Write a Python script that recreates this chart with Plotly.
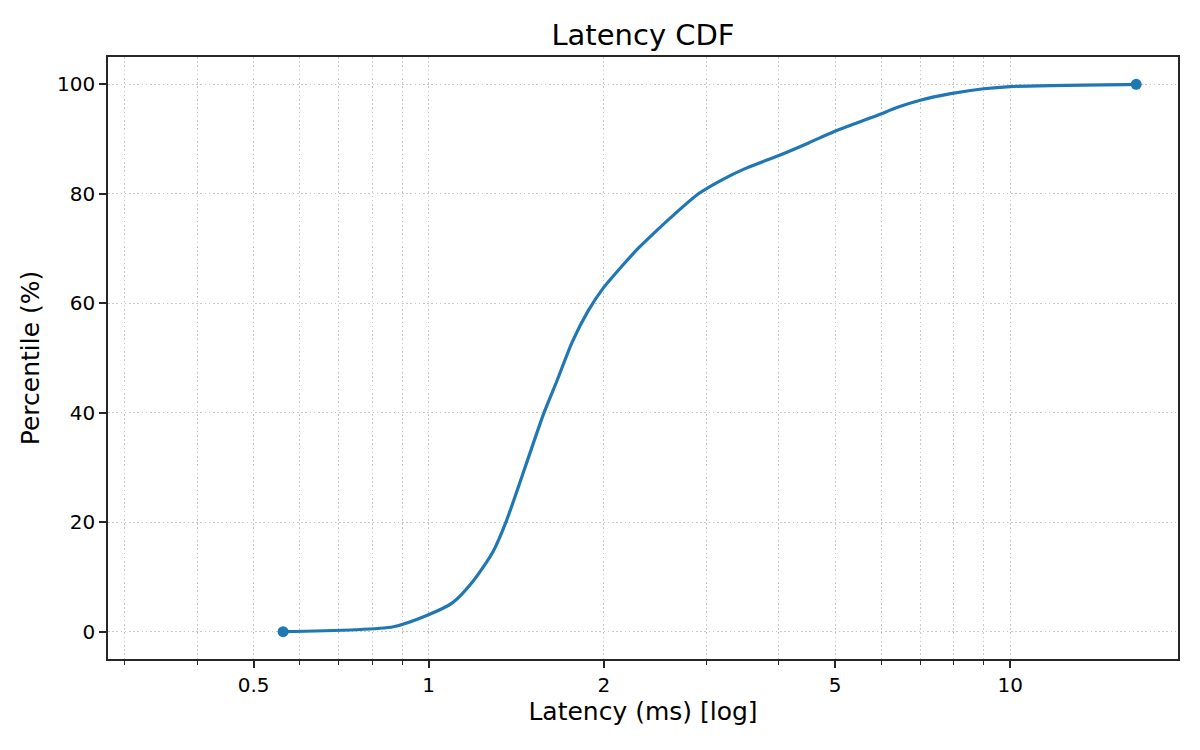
import math

import plotly.graph_objects as go

_BLUE = "#1f77b4"
_GRID = "#c8c8c8"
_SPINE = "#262626"

# CDF samples: latency (ms) and percentile (%)
latency_ms = [0.562, 0.87, 0.99, 1.10, 1.19, 1.29, 1.36, 1.47, 1.575, 1.66,
              1.765, 1.88, 2.0, 2.15, 2.30, 2.45, 2.61, 2.91, 3.2, 3.5, 4.0,
              4.5, 4.96, 5.4, 5.9, 6.4, 7.0, 7.9, 9.0, 10.0, 16.46]
percentile = [0.0, 0.9, 2.9, 5.3, 9.1, 14.6, 20.2, 30.5, 39.7, 45.7,
              52.9, 58.6, 62.9, 66.8, 70.2, 73.0, 75.7, 80.0, 82.6, 84.6, 87.0,
              89.3, 91.3, 92.8, 94.3, 95.8, 97.1, 98.3, 99.2, 99.6, 100.0]

x_ticks = [0.5, 1, 2, 5, 10]
x_tick_labels = ["0.5", "1", "2", "5", "10"]
x_minor = [0.3, 0.4, 0.6, 0.7, 0.8, 0.9, 3, 4, 6, 7, 8, 9]
y_ticks = [0, 20, 40, 60, 80, 100]

# axis limits: half the minimum, ~1.2x the maximum
x_lo = latency_ms[0] * 0.5
x_hi = latency_ms[-1] * 1.18

fig = go.Figure()
fig.add_trace(go.Scatter(
    x=latency_ms,
    y=percentile,
    mode="lines",
    line={"color": _BLUE, "width": 3.2, "shape": "spline", "smoothing": 0.7},
    showlegend=False,
    hoverinfo="x+y",
))
# endpoints (min / max) drawn as dots
fig.add_trace(go.Scatter(
    x=[latency_ms[0], latency_ms[-1]],
    y=[percentile[0], percentile[-1]],
    mode="markers",
    marker={"color": _BLUE, "size": 11},
    showlegend=False,
    hoverinfo="x+y",
))

grid_dash = "1.6px,2.6px"
fig.update_layout(
    width=1200,
    height=750,
    title={"text": "Latency CDF", "x": 0.5, "xref": "paper", "xanchor": "center",
           "y": 1 - 27 / 750, "yanchor": "middle", "font": {"size": 29}},
    margin={"l": 100, "r": 30, "t": 49, "b": 99},
    font={"family": "DejaVu Sans", "size": 20, "color": "black"},
    plot_bgcolor="white",
    paper_bgcolor="white",
)
fig.update_xaxes(
    type="log",
    range=[math.log10(x_lo), math.log10(x_hi)],
    tickmode="array",
    tickvals=x_ticks,
    ticktext=x_tick_labels,
    ticks="outside",
    ticklen=7,
    tickwidth=1.6,
    tickcolor=_SPINE,
    showline=True,
    linecolor=_SPINE,
    linewidth=1.6,
    mirror=True,
    showgrid=True,
    gridcolor=_GRID,
    griddash=grid_dash,
    gridwidth=1.3,
    zeroline=False,
    minor={"tickmode": "array", "tickvals": x_minor, "ticks": "outside",
           "ticklen": 4, "tickwidth": 1.3, "tickcolor": _SPINE, "showgrid": True,
           "gridcolor": _GRID, "griddash": grid_dash, "gridwidth": 1.3},
    title={"text": "Latency (ms) [log]", "font": {"size": 25}, "standoff": 6},
)
fig.update_yaxes(
    range=[-5, 105],
    tickmode="array",
    tickvals=y_ticks,
    ticks="outside",
    ticklen=7,
    tickwidth=1.6,
    tickcolor=_SPINE,
    showline=True,
    linecolor=_SPINE,
    linewidth=1.6,
    mirror=True,
    showgrid=True,
    gridcolor=_GRID,
    griddash=grid_dash,
    gridwidth=1.3,
    zeroline=False,
    title={"text": "Percentile (%)", "font": {"size": 25}, "standoff": 10},
)

fig.write_html("out.html")
